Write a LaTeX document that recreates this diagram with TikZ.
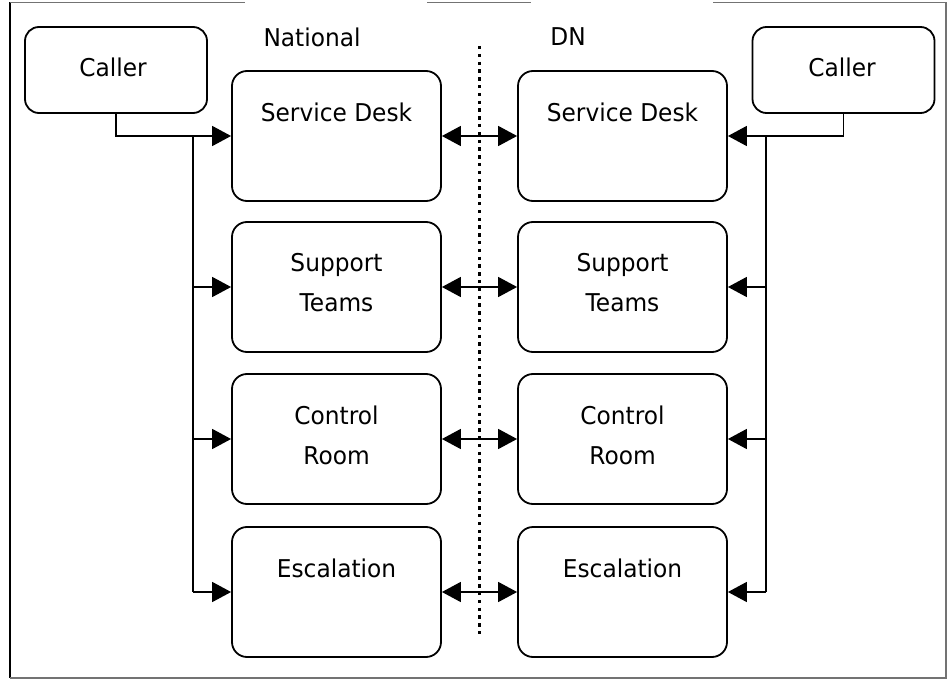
\documentclass[tikz,border=0pt]{standalone}
\usepackage{fontspec}
\setmainfont{DejaVu Sans}[FakeStretch=0.95]
\usetikzlibrary{arrows.meta}
\begin{document}
\begin{tikzpicture}[x=1pt,y=-1pt,
  box/.style={draw,line width=1.8pt,rounded corners=15pt,minimum width=209pt,minimum height=130pt,inner sep=0pt},
  callbox/.style={draw,line width=1.8pt,rounded corners=14pt,minimum width=182pt,minimum height=86pt,inner sep=0pt},
  lbl/.style={font=\fontsize{24.5}{40}\selectfont,align=center,inner sep=0pt},
  conn/.style={line width=1.6pt},
  arr/.style={line width=1.6pt,-{Triangle[length=19pt,width=20pt]}},
  darr/.style={line width=1.6pt,{Triangle[length=19pt,width=20pt]}-{Triangle[length=19pt,width=20pt]}},
  frame/.style={line width=1.2pt,draw=black!55}
]
\useasboundingbox (0,0) rectangle (948,679);
\fill[white] (0,0) rectangle (948,679);
% outer frame
\draw[line width=1.6pt] (10,2.5) -- (10,678);
\draw[frame] (10,2.5) -- (245,2.5);
\draw[frame] (427,2.5) -- (531,2.5);
\draw[frame] (713,2.5) -- (946,2.5) -- (946,678) -- (10,678);

% callers
\node[callbox] (callerL) at (116,70) {};
\node[lbl] (callerLt) at (113,67) {Caller};
\node[callbox] (callerR) at (843.5,70) {};
\node[lbl] (callerRt) at (842,67) {Caller};

% headings
\node[lbl] (national) at (312,37) {National};
\node[lbl] (dn) at (568,37) {DN};

% boxes
\node[box] (sdL) at (336.5,136) {};
\node[box] (stL) at (336.5,287) {};
\node[box] (crL) at (336.5,439) {};
\node[box] (esL) at (336.5,592) {};
\node[box] (sdR) at (622.5,136) {};
\node[box] (stR) at (622.5,287) {};
\node[box] (crR) at (622.5,439) {};
\node[box] (esR) at (622.5,592) {};

\node[lbl] (sdLt) at (336.5,112) {Service Desk};
\node[lbl] (stLt) at (336.5,283) {Support\\Teams};
\node[lbl] (crLt) at (336.5,435) {Control\\Room};
\node[lbl] (esLt) at (336.5,568) {Escalation};
\node[lbl] (sdRt) at (622.5,112) {Service Desk};
\node[lbl] (stRt) at (622.5,283) {Support\\Teams};
\node[lbl] (crRt) at (622.5,435) {Control\\Room};
\node[lbl] (esRt) at (622.5,568) {Escalation};

% dotted divider
\coordinate (divtop) at (479.5,46);
\coordinate (divbot) at (479.5,634);
\draw[line width=3.8pt,dash pattern=on 3.4pt off 4.4pt] (divtop) -- (divbot);

% left bus
\coordinate (busLtop) at (193,136);
\coordinate (busLbot) at (193,592);
\draw[arr] (callerL.south) |- (sdL.west);
\draw[conn] (busLtop) -- (busLbot);
\draw[arr] (busLtop |- stL.west) -- (stL.west);
\draw[arr] (busLtop |- crL.west) -- (crL.west);
\draw[arr] (busLbot) -- (esL.west);

% right bus
\coordinate (busRtop) at (766,136);
\coordinate (busRbot) at (766,592);
\draw[arr] (callerR.south) |- (sdR.east);
\draw[conn] (busRtop) -- (busRbot);
\draw[arr] (busRtop |- stR.east) -- (stR.east);
\draw[arr] (busRtop |- crR.east) -- (crR.east);
\draw[arr] (busRbot) -- (esR.east);

% middle links
\draw[darr] (sdL.east) -- (sdR.west);
\draw[darr] (stL.east) -- (stR.west);
\draw[darr] (crL.east) -- (crR.west);
\draw[darr] (esL.east) -- (esR.west);
\end{tikzpicture}
\end{document}
